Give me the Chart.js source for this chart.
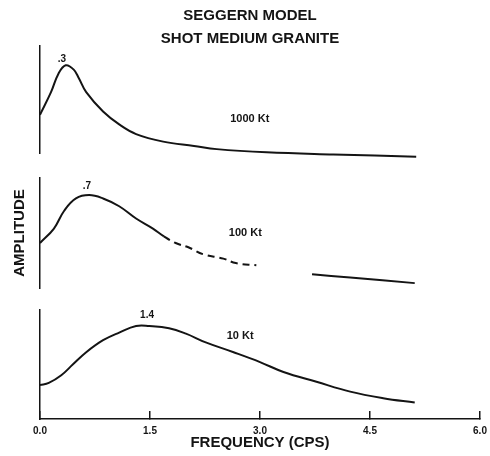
<!DOCTYPE html>
<html>
<head>
<meta charset="utf-8">
<title>Seggern model</title>
<script src="https://cdn.jsdelivr.net/npm/chart.js@4.4.0/dist/chart.umd.min.js"></script>
<style>
    html, body { margin: 0; padding: 0; background: #fff; }
</style>
</head>
<body>
<canvas id="chart-seggern" width="490" height="456"></canvas>
<script>
// Seggern model - shot medium granite
// -----------------------------------

// frequency axis (cps)
var freqTicks = [0, 1.5, 3.0, 4.5, 6.0];
var freqTickLabels = ['0.0', '1.5', '3.0', '4.5', '6.0'];

// 1000 Kt (relative amplitude)
var freq1000 = [0, 0.15, 0.25, 0.35, 0.46, 0.53, 0.63, 0.86, 1.08, 1.31, 1.68, 2.10, 2.41, 3.09, 4.00, 5.13];
var amp1000  = [0.36, 0.57, 0.74, 0.82, 0.78, 0.70, 0.57, 0.39, 0.27, 0.18, 0.11, 0.07, 0.04, 0.01, -0.01, -0.03];

// 100 Kt (null = break in the trace)
var freq100 = [0, 0.19, 0.33, 0.49, 0.67, 0.86, 1.08, 1.31, 1.54, 1.69, 1.85, 2.03, 2.22, 2.50, 2.67, 2.95, 3.30, 3.71, 4.23, 5.11];
var amp100  = [0.41, 0.54, 0.70, 0.81, 0.84, 0.81, 0.74, 0.63, 0.54, 0.47, 0.41, 0.37, 0.31, 0.27, 0.23, 0.21, null, 0.13, 0.10, 0.05];

// 10 Kt
var freq10 = [0, 0.12, 0.29, 0.45, 0.63, 0.86, 1.08, 1.31, 1.49, 1.76, 1.99, 2.26, 2.64, 3.00, 3.32, 3.77, 4.23, 4.68, 5.11];
var amp10  = [0.31, 0.33, 0.40, 0.50, 0.61, 0.72, 0.79, 0.85, 0.85, 0.83, 0.78, 0.70, 0.61, 0.52, 0.43, 0.34, 0.25, 0.19, 0.15];

// labels written on the curves
var noteText = ['.3', '1000 Kt', '.7', '100 Kt', '1.4', '10 Kt'];
var noteFreq = [0.30, 2.86, 0.64, 2.80, 1.46, 2.73];
var noteAmp  = [0.88, 0.32, 0.92, 0.50, 0.95, 0.76];
var noteAxis = ['yTop', 'yTop', 'yMid', 'yMid', 'yBot', 'yBot'];

var ink = '#141414';
var family = "'Liberation Sans', Arial, sans-serif";

function points(xs, ys) {
    return xs.map(function(x, i) { return { x: x, y: ys[i] }; });
}

function fixLeft(axis) {
    axis.width = 30;
    axis.paddingTop = 0;
    axis.paddingBottom = 0;
}

function panelAxis(weight, size, title) {
    return {
        type: 'linear',
        position: 'left',
        stack: 'panels',
        stackWeight: size,
        weight: weight,
        min: 0,
        max: 1,
        ticks: { display: false },
        grid: { display: false },
        border: { display: true, color: ink, width: 1.5 },
        title: title ? {
            display: true,
            text: title,
            color: ink,
            font: { family: family, size: 15, weight: 'bold' },
            padding: { top: 1, bottom: 0 }
        } : { display: false },
        afterFit: fixLeft
    };
}

function gapAxis(weight, size) {
    return {
        type: 'linear',
        position: 'left',
        stack: 'panels',
        stackWeight: size,
        weight: weight,
        min: 0,
        max: 1,
        ticks: { display: false },
        grid: { display: false },
        border: { display: false },
        afterFit: fixLeft
    };
}

var notesPlugin = {
    id: 'curveNotes',
    afterDatasetsDraw: function(chart) {
        var ctx = chart.ctx;
        var xs = chart.scales.x;
        ctx.save();
        ctx.fillStyle = ink;
        ctx.textAlign = 'center';
        ctx.textBaseline = 'middle';
        noteText.forEach(function(t, i) {
            ctx.font = 'bold ' + (t.indexOf('Kt') > 0 ? 11 : 10) + 'px ' + family;
            ctx.fillText(t, xs.getPixelForValue(noteFreq[i]), chart.scales[noteAxis[i]].getPixelForValue(noteAmp[i]));
        });
        ctx.restore();
    }
};

var lineStyle = {
    borderColor: ink,
    borderWidth: 2,
    pointRadius: 0,
    fill: false,
    tension: 0.4,
    spanGaps: false
};

var ctx = document.getElementById('chart-seggern').getContext('2d');
var chart = new Chart(ctx, {
    type: 'line',
    data: {
        datasets: [
            Object.assign({ label: '1000 Kt', yAxisID: 'yTop', data: points(freq1000, amp1000), clip: false }, lineStyle),
            Object.assign({
                label: '100 Kt', yAxisID: 'yMid', data: points(freq100, amp100),
                segment: {
                    borderDash: function(c) { return (c.p0.parsed.x >= 1.69 && c.p1.parsed.x <= 2.95) ? [7, 5] : undefined; }
                }
            }, lineStyle),
            Object.assign({ label: '10 Kt', yAxisID: 'yBot', data: points(freq10, amp10) }, lineStyle)
        ]
    },
    plugins: [notesPlugin],
    options: {
        responsive: false,
        animation: false,
        events: [],
        layout: { padding: { left: 10, right: 0, top: 0, bottom: 0 } },
        plugins: {
            legend: { display: false },
            tooltip: { enabled: false },
            title: {
                display: true,
                text: 'SEGGERN MODEL',
                color: ink,
                font: { family: family, size: 15, weight: 'bold', lineHeight: 1 },
                padding: { top: 8, bottom: 8 }
            },
            subtitle: {
                display: true,
                text: 'SHOT MEDIUM GRANITE',
                color: ink,
                font: { family: family, size: 15, weight: 'bold', lineHeight: 1 },
                padding: { top: 0, bottom: 0 }
            }
        },
        scales: {
            x: {
                type: 'linear',
                position: 'bottom',
                min: 0,
                max: 6,
                afterBuildTicks: function(axis) {
                    axis.ticks = freqTicks.map(function(v) { return { value: v }; });
                },
                ticks: {
                    color: ink,
                    padding: 14,
                    maxRotation: 0,
                    font: { family: family, size: 10, weight: 'bold' },
                    callback: function(v, i) { return freqTickLabels[i]; }
                },
                grid: { drawOnChartArea: false, tickLength: -8, color: ink, lineWidth: 1.5 },
                border: { color: ink, width: 1.5 },
                title: {
                    display: true,
                    text: 'FREQUENCY (CPS)',
                    color: ink,
                    font: { family: family, size: 15, weight: 'bold' },
                    padding: { top: 0, bottom: 4 }
                },
                afterFit: function(axis) {
                    axis.height = 37;
                    axis.paddingLeft = 0;
                    axis.paddingRight = 10;
                }
            },
            yTop: panelAxis(5, 108),
            gapA: gapAxis(4, 24),
            yMid: panelAxis(3, 112, 'AMPLITUDE'),
            gapB: gapAxis(2, 21),
            yBot: panelAxis(1, 110)
        }
    }
});
</script>
</body>
</html>
